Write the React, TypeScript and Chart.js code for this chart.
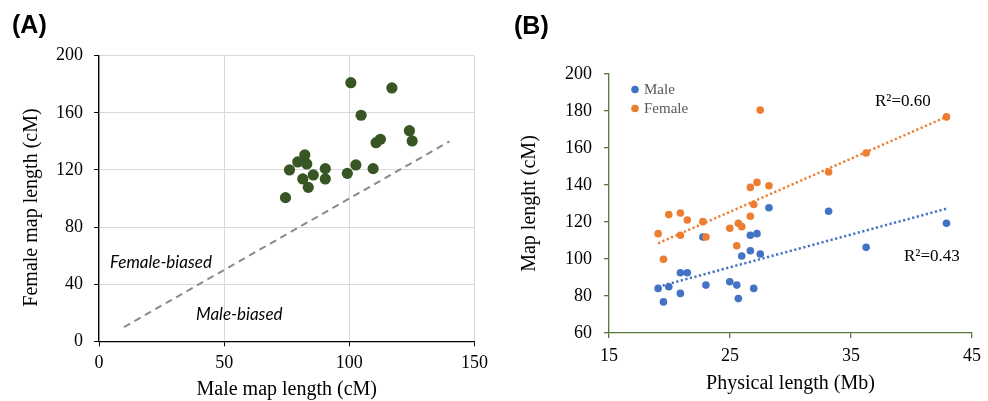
import React, { useEffect, useRef } from 'react';
import { Chart, registerables } from 'chart.js';

Chart.register(...registerables);

// ---------- Panel A data ----------
const aMaleLength = [100.6, 117.0, 104.7, 124.0, 125.1, 110.7, 112.4, 102.6, 109.5, 99.2, 90.4, 90.4, 82.2, 79.4, 83.0, 76.1, 81.4, 85.6, 83.6, 74.5];
const aFemaleLength = [181.1, 177.4, 158.3, 147.5, 140.3, 139.1, 141.5, 123.5, 120.9, 117.6, 120.9, 113.7, 130.5, 125.6, 124.2, 120.0, 113.7, 116.5, 107.8, 100.6];
const aDiagonalX = [10, 140];
const aDiagonalY = [10, 140];
const aXTicks = [0, 50, 100, 150];
const aYTicks = [0, 40, 80, 120, 160, 200];
const aYTitle = 'Female map length (cM)';

// ---------- Panel B data ----------
const bPhysical = [19.06, 19.5, 19.94, 20.9, 20.9, 21.47, 22.76, 23.01, 24.98, 25.56, 25.69, 25.97, 26.68, 26.68, 26.96, 27.23, 27.5, 28.22, 33.15, 36.25, 42.89];
const bMale = [84.1, 76.8, 85.0, 92.6, 81.4, 92.6, 111.9, 85.9, 87.7, 85.9, 78.6, 101.6, 112.8, 104.5, 84.1, 113.7, 102.7, 127.7, 125.8, 106.3, 119.3];
const bFemale = [113.7, 99.8, 124.0, 124.9, 112.8, 121.1, 120.2, 111.9, 116.6, 107.2, 119.3, 117.5, 138.7, 123.1, 129.5, 141.4, 180.5, 139.6, 147.0, 157.3, 176.8];
const bTrendX = [19.06, 42.9];
const bMaleTrendY = [85.0, 127.2];
const bFemaleTrendY = [108.5, 176.9];
const bXTicks = [15, 25, 35, 45];
const bYTicks = [60, 80, 100, 120, 140, 160, 180, 200];
const bMaleR2 = 'R²=0.43';
const bFemaleR2 = 'R²=0.60';

const SERIF = '"Liberation Serif", "Times New Roman", serif';
const SANS = '"Liberation Sans", Arial, sans-serif';
const GREEN_AXIS = '#56773a';

const textA = {
  id: 'textA',
  afterDraw(chart: any) {
    const ctx = chart.ctx;
    ctx.save();
    ctx.textBaseline = 'middle';
    ctx.textAlign = 'left';
    ctx.fillStyle = '#000';
    ctx.font = `bold 25px ${SANS}`;
    ctx.fillText('(A)', 12, 26);
    ctx.font = `italic 17px Lato, "Open Sans", sans-serif`;
    ctx.fillText('Female-biased', 110, 263);
    ctx.fillText('Male-biased', 196, 315);
    // y axis title
    ctx.save();
    ctx.translate(32, 207.5);
    ctx.rotate(-Math.PI / 2);
    ctx.textAlign = 'center';
    ctx.font = `20px ${SERIF}`;
    ctx.fillText(aYTitle, 0, 0);
    ctx.restore();
    ctx.restore();
  },
};

const textB = {
  id: 'textB',
  afterDraw(chart: any) {
    const ctx = chart.ctx;
    ctx.save();
    ctx.textBaseline = 'middle';
    ctx.textAlign = 'left';
    ctx.fillStyle = '#000';
    ctx.font = `bold 25px ${SANS}`;
    ctx.fillText('(B)', 20, 27);
    // legend
    const items = [
      { label: 'Male', color: '#4472C4', y: 89.5 },
      { label: 'Female', color: '#ED7D31', y: 108.5 },
    ];
    ctx.font = `15px ${SERIF}`;
    items.forEach((it) => {
      ctx.fillStyle = it.color;
      ctx.beginPath();
      ctx.arc(141, it.y, 3.8, 0, Math.PI * 2);
      ctx.fill();
      ctx.fillStyle = '#595959';
      ctx.fillText(it.label, 150, it.y + 1);
    });
    ctx.fillStyle = '#000';
    ctx.font = `17px ${SERIF}`;
    ctx.fillText(bFemaleR2, 381, 102);
    ctx.fillText(bMaleR2, 410, 257);
    ctx.restore();
  },
};

function configA(): any {
  return {
    type: 'scatter',
    data: {
      datasets: [
        {
          type: 'line',
          data: aDiagonalX.map((x, i) => ({ x, y: aDiagonalY[i] })),
          borderColor: '#8a8a8a',
          borderWidth: 2,
          borderDash: [7, 5],
          pointRadius: 0,
          fill: false,
          order: 2,
        },
        {
          data: aMaleLength.map((x, i) => ({ x, y: aFemaleLength[i] })),
          backgroundColor: '#375623',
          borderWidth: 0,
          pointRadius: 5.6,
          pointHoverRadius: 5.6,
          order: 1,
        },
      ],
    },
    options: {
      responsive: false,
      animation: false,
      devicePixelRatio: 1,
      layout: { padding: { left: 0, top: 55.7, right: 18.7, bottom: 0 } },
      plugins: { legend: { display: false }, tooltip: { enabled: false } },
      scales: {
        x: {
          type: 'linear',
          min: 0,
          max: 150,
          afterBuildTicks: (s: any) => { s.ticks = aXTicks.map((v) => ({ value: v })); },
          afterFit: (s: any) => { s.height = 59.7; },
          grid: { color: '#d9d9d9', tickColor: '#000', tickLength: 5, lineWidth: 1 },
          border: { color: '#000', width: 1.3 },
          ticks: { font: { family: SERIF, size: 18 }, color: '#000', padding: 6, maxRotation: 0 },
          title: { display: true, text: 'Male map length (cM)', font: { family: SERIF, size: 20, lineHeight: 1.1 }, color: '#000', padding: { top: 0, bottom: 0 } },
        },
        y: {
          type: 'linear',
          min: 0,
          max: 200,
          afterBuildTicks: (s: any) => { s.ticks = aYTicks.map((v) => ({ value: v })); },
          afterFit: (s: any) => { s.width = 99; },
          grid: { color: '#d9d9d9', tickColor: '#000', tickLength: 5, lineWidth: 1 },
          border: { color: '#000', width: 1.3 },
          ticks: { font: { family: SERIF, size: 18 }, color: '#000', padding: 11 },
          title: { display: false },
        },
      },
    },
    plugins: [textA],
  };
}

function configB(): any {
  return {
    type: 'scatter',
    data: {
      datasets: [
        {
          type: 'line',
          data: bTrendX.map((x, i) => ({ x, y: bFemaleTrendY[i] })),
          borderColor: '#ED7D31',
          borderWidth: 2.5,
          borderDash: [2.2, 2.5],
          pointRadius: 0,
          fill: false,
          order: 0,
        },
        {
          type: 'line',
          data: bTrendX.map((x, i) => ({ x, y: bMaleTrendY[i] })),
          borderColor: '#4472C4',
          borderWidth: 2.5,
          borderDash: [2.2, 2.5],
          pointRadius: 0,
          fill: false,
          order: 0,
        },
        {
          label: 'Female',
          data: bPhysical.map((x, i) => ({ x, y: bFemale[i] })),
          backgroundColor: '#ED7D31',
          borderWidth: 0,
          pointRadius: 3.8,
          pointHoverRadius: 3.8,
          order: 1,
        },
        {
          label: 'Male',
          data: bPhysical.map((x, i) => ({ x, y: bMale[i] })),
          backgroundColor: '#4472C4',
          borderWidth: 0,
          pointRadius: 3.8,
          pointHoverRadius: 3.8,
          order: 2,
        },
      ],
    },
    options: {
      responsive: false,
      animation: false,
      devicePixelRatio: 1,
      layout: { padding: { left: 0, top: 74, right: 14.3, bottom: 0 } },
      plugins: { legend: { display: false }, tooltip: { enabled: false } },
      scales: {
        x: {
          type: 'linear',
          min: 15,
          max: 45,
          afterBuildTicks: (s: any) => { s.ticks = bXTicks.map((v) => ({ value: v })); },
          afterFit: (s: any) => { s.height = 68; },
          grid: { drawOnChartArea: false, tickColor: GREEN_AXIS, tickLength: 5, lineWidth: 1.3 },
          border: { color: GREEN_AXIS, width: 1.3 },
          ticks: { font: { family: SERIF, size: 18 }, color: '#000', padding: 7, maxRotation: 0 },
          title: { display: true, text: 'Physical length (Mb)', font: { family: SERIF, size: 20, lineHeight: 1.2 }, color: '#000', padding: { top: 0, bottom: 5 } },
        },
        y: {
          type: 'linear',
          min: 60,
          max: 200,
          afterBuildTicks: (s: any) => { s.ticks = bYTicks.map((v) => ({ value: v })); },
          afterFit: (s: any) => { s.width = 115; },
          grid: { drawOnChartArea: false, tickColor: GREEN_AXIS, tickLength: 5, lineWidth: 1.3 },
          border: { color: GREEN_AXIS, width: 1.3 },
          ticks: { font: { family: SERIF, size: 18 }, color: '#000', padding: 12 },
          title: { display: true, text: 'Map lenght (cM)', font: { family: SERIF, size: 20, lineHeight: 1.2 }, color: '#000', padding: { top: 24, bottom: 0 } },
        },
      },
    },
    plugins: [textB],
  };
}

export default function App() {
  const refA = useRef<HTMLCanvasElement>(null);
  const refB = useRef<HTMLCanvasElement>(null);
  useEffect(() => {
    const a = new Chart(refA.current!, configA());
    const b = new Chart(refB.current!, configB());
    return () => {
      a.destroy();
      b.destroy();
    };
  }, []);
  return (
    <div style={{ position: 'fixed', left: 0, top: 0, width: 988, height: 401, background: '#fff' }}>
      <canvas ref={refA} width={494} height={401} style={{ position: 'absolute', left: 0, top: 0, width: 494, height: 401 }} />
      <canvas ref={refB} width={494} height={401} style={{ position: 'absolute', left: 494, top: 0, width: 494, height: 401 }} />
    </div>
  );
}
